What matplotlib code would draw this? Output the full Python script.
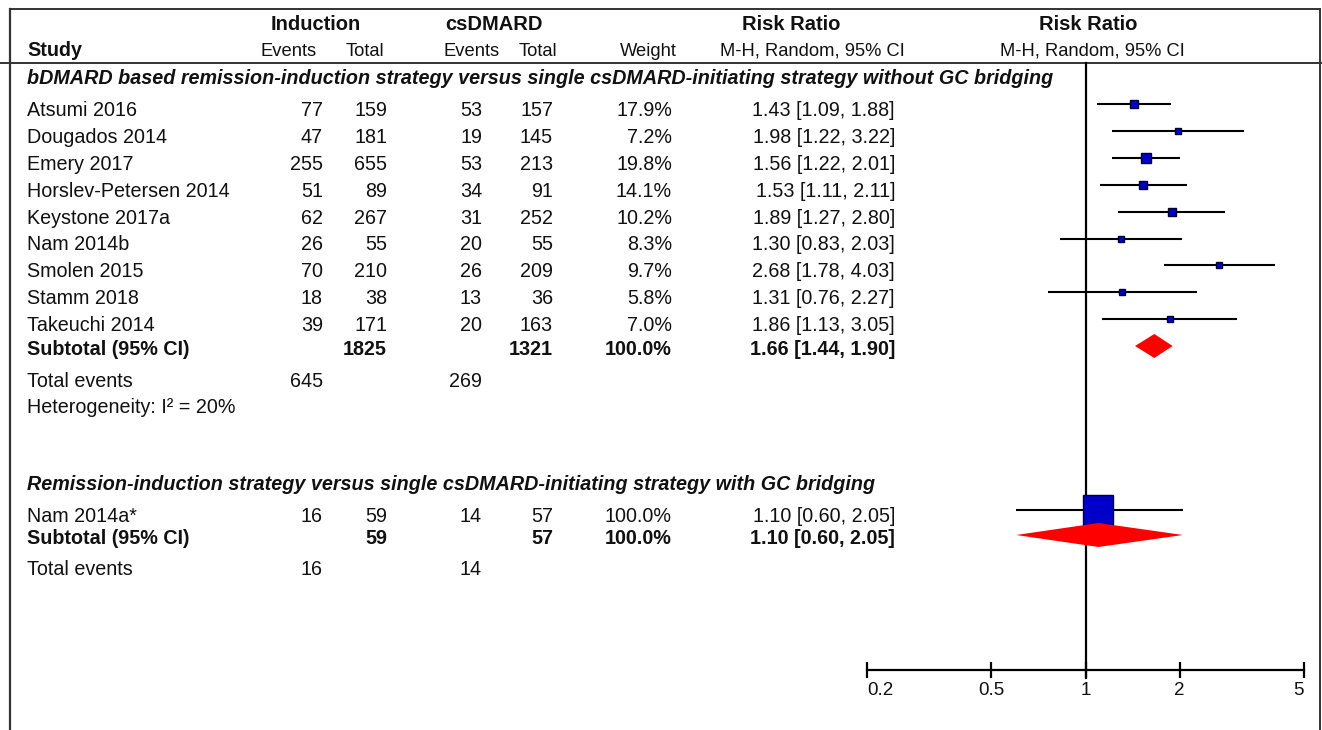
import matplotlib
matplotlib.use("Agg")
import matplotlib.pyplot as plt
import numpy as np

plt.rcParams['font.family'] = ['Liberation Sans', 'DejaVu Sans']

# ---- data -------------------------------------------------------------
studies1 = ["Atsumi 2016", "Dougados 2014", "Emery 2017", "Horslev-Petersen 2014",
            "Keystone 2017a", "Nam 2014b", "Smolen 2015", "Stamm 2018", "Takeuchi 2014"]
ind_events1 = [77, 47, 255, 51, 62, 26, 70, 18, 39]
ind_total1 = [159, 181, 655, 89, 267, 55, 210, 38, 171]
cs_events1 = [53, 19, 53, 34, 31, 20, 26, 13, 20]
cs_total1 = [157, 145, 213, 91, 252, 55, 209, 36, 163]
weights1 = [17.9, 7.2, 19.8, 14.1, 10.2, 8.3, 9.7, 5.8, 7.0]
rr1 = [1.43, 1.98, 1.56, 1.53, 1.89, 1.30, 2.68, 1.31, 1.86]
lo1 = [1.09, 1.22, 1.22, 1.11, 1.27, 0.83, 1.78, 0.76, 1.13]
hi1 = [1.88, 3.22, 2.01, 2.11, 2.80, 2.03, 4.03, 2.27, 3.05]
sub1 = dict(ind_total=1825, cs_total=1321, rr=1.66, lo=1.44, hi=1.90,
            ind_events=645, cs_events=269)

studies2 = ["Nam 2014a*"]
ind_events2 = [16]
ind_total2 = [59]
cs_events2 = [14]
cs_total2 = [57]
weights2 = [100.0]
rr2 = [1.10]
lo2 = [0.60]
hi2 = [2.05]
sub2 = dict(ind_total=59, cs_total=57, rr=1.10, lo=0.60, hi=2.05,
            ind_events=16, cs_events=14)

group1_title = ("bDMARD based remission-induction strategy versus single "
                "csDMARD-initiating strategy without GC bridging")
group2_title = ("Remission-induction strategy versus single "
                "csDMARD-initiating strategy with GC bridging")
heterogeneity1 = "Heterogeneity: I\u00b2 = 20%"
axis_ticks = [0.2, 0.5, 1, 2, 5]

# ---- layout (pixel units) ---------------------------------------------
W, H = 1322, 730
fig = plt.figure(figsize=(W / 100, H / 100), dpi=100)
ax = fig.add_axes([0, 0, 1, 1])
ax.set_xlim(0, W)
ax.set_ylim(H, 0)
ax.axis('off')

X_LEFT, X_RIGHT = 867, 1304          # forest axis extent
fx = fig.add_axes([X_LEFT / W, 0, (X_RIGHT - X_LEFT) / W, 1])
fx.set_xscale('log')
fx.set_xlim(axis_ticks[0], axis_ticks[-1])
fx.set_ylim(H, 0)
fx.patch.set_visible(False)

TXT = '#111111'
FS = 14.2
FS_SUB = 13.2
CAP = 7  # half cap-height offset, text centre -> baseline

col_study = 27
col_ie, col_it = 323, 387
col_ce, col_ct = 482, 553
col_w = 672
col_ci = 895


def txt(x, yc, s, ha='right', **kw):
    kw.setdefault('fontsize', FS)
    kw.setdefault('color', TXT)
    ax.text(x, yc + CAP, s, ha=ha, va='baseline', **kw)


# frame lines
LC = '#333333'
ax.plot([10, 1320], [9, 9], color=LC, lw=1.4)
ax.plot([0, W], [63, 63], color=LC, lw=1.4)
ax.plot([10, 10], [9, H], color=LC, lw=1.6)
ax.plot([1320, 1320], [9, H], color=LC, lw=1.4)

# header
ax.text(316, 30, "Induction", ha='center', va='baseline', fontsize=14.5,
        fontweight='bold', color=TXT)
ax.text(445, 30, "csDMARD", ha='left', va='baseline', fontsize=14.5,
        fontweight='bold', color=TXT)
ax.text(791, 30, "Risk Ratio", ha='center', va='baseline', fontsize=14.5,
        fontweight='bold', color=TXT)
ax.text(1088, 30, "Risk Ratio", ha='center', va='baseline', fontsize=14.5,
        fontweight='bold', color=TXT)
ax.text(col_study, 56, "Study", ha='left', va='baseline', fontsize=FS,
        fontweight='bold', color=TXT)
for x, s in [(317, "Events"), (384, "Total"), (500, "Events"), (557, "Total"),
             (677, "Weight")]:
    ax.text(x, 56, s, ha='right', va='baseline', fontsize=FS_SUB, color=TXT)
ax.text(812, 56, "M-H, Random, 95% CI", ha='center', va='baseline',
        fontsize=FS_SUB, color=TXT)
ax.text(1092, 56, "M-H, Random, 95% CI", ha='center', va='baseline',
        fontsize=FS_SUB, color=TXT)


def box_side(w):
    return 0.25 * w + 4.5


def draw_group(title, ty, studies, ie, it, ce, ct, wts, rr, lo, hi, y0,
               sub, sub_y, tot_y, het=None, het_y=None):
    txt(col_study, ty, title, ha='left', fontweight='bold', style='italic')
    step = 26.9
    ys = [y0 + i * step for i in range(len(studies))]
    for i, y in enumerate(ys):
        txt(col_study, y, studies[i], ha='left')
        txt(col_ie, y, str(ie[i]))
        txt(col_it, y, str(it[i]))
        txt(col_ce, y, str(ce[i]))
        txt(col_ct, y, str(ct[i]))
        txt(col_w, y, f"{wts[i]:.1f}%")
        txt(col_ci, y, f"{rr[i]:.2f} [{lo[i]:.2f}, {hi[i]:.2f}]")
        ym = y - 5
        fx.plot([lo[i], hi[i]], [ym, ym], color='black', lw=1.5, zorder=2,
                solid_capstyle='butt')
        fx.plot([rr[i]], [ym], marker='s', ms=box_side(wts[i]) * 0.72,
                mfc='#0000C8', mec='#000030', mew=1.0, zorder=3)
    # subtotal
    txt(col_study, sub_y, "Subtotal (95% CI)", ha='left', fontweight='bold')
    txt(col_it, sub_y, str(sub['ind_total']), fontweight='bold')
    txt(col_ct, sub_y, str(sub['cs_total']), fontweight='bold')
    txt(col_w, sub_y, "100.0%", fontweight='bold')
    txt(col_ci, sub_y, f"{sub['rr']:.2f} [{sub['lo']:.2f}, {sub['hi']:.2f}]",
        fontweight='bold')
    yd = sub_y - 2
    fx.fill([sub['lo'], sub['rr'], sub['hi'], sub['rr']],
            [yd, yd - 12, yd, yd + 12], color='#FF0000', lw=0, zorder=4)
    txt(col_study, tot_y, "Total events", ha='left')
    txt(col_ie, tot_y, str(sub['ind_events']))
    txt(col_ce, tot_y, str(sub['cs_events']))
    if het:
        txt(col_study, het_y, het, ha='left')


draw_group(group1_title, 77, studies1, ind_events1, ind_total1, cs_events1,
           cs_total1, weights1, rr1, lo1, hi1, 109, sub1, 348, 380,
           heterogeneity1, 406)
draw_group(group2_title, 483, studies2, ind_events2, ind_total2, cs_events2,
           cs_total2, weights2, rr2, lo2, hi2, 515, sub2, 537, 568)

# line of no effect
fx.plot([1, 1], [63, 678], color='black', lw=1.6, zorder=1)

# risk-ratio axis
for s in ['top', 'left', 'right']:
    fx.spines[s].set_visible(False)
fx.spines['bottom'].set_position(('data', 670))
fx.spines['bottom'].set_linewidth(1.6)
fx.set_yticks([])
fx.set_xticks(axis_ticks)
fx.xaxis.set_minor_locator(matplotlib.ticker.NullLocator())
fx.set_xticklabels([f"{t:g}" for t in axis_ticks])
fx.tick_params(axis='x', direction='inout', length=11.5, width=1.6,
               labelsize=13.5, pad=3, colors='black', labelcolor=TXT)
labels = fx.get_xticklabels()
labels[0].set_horizontalalignment('left')
labels[-1].set_horizontalalignment('right')

fig.savefig("out.png", dpi=100)
